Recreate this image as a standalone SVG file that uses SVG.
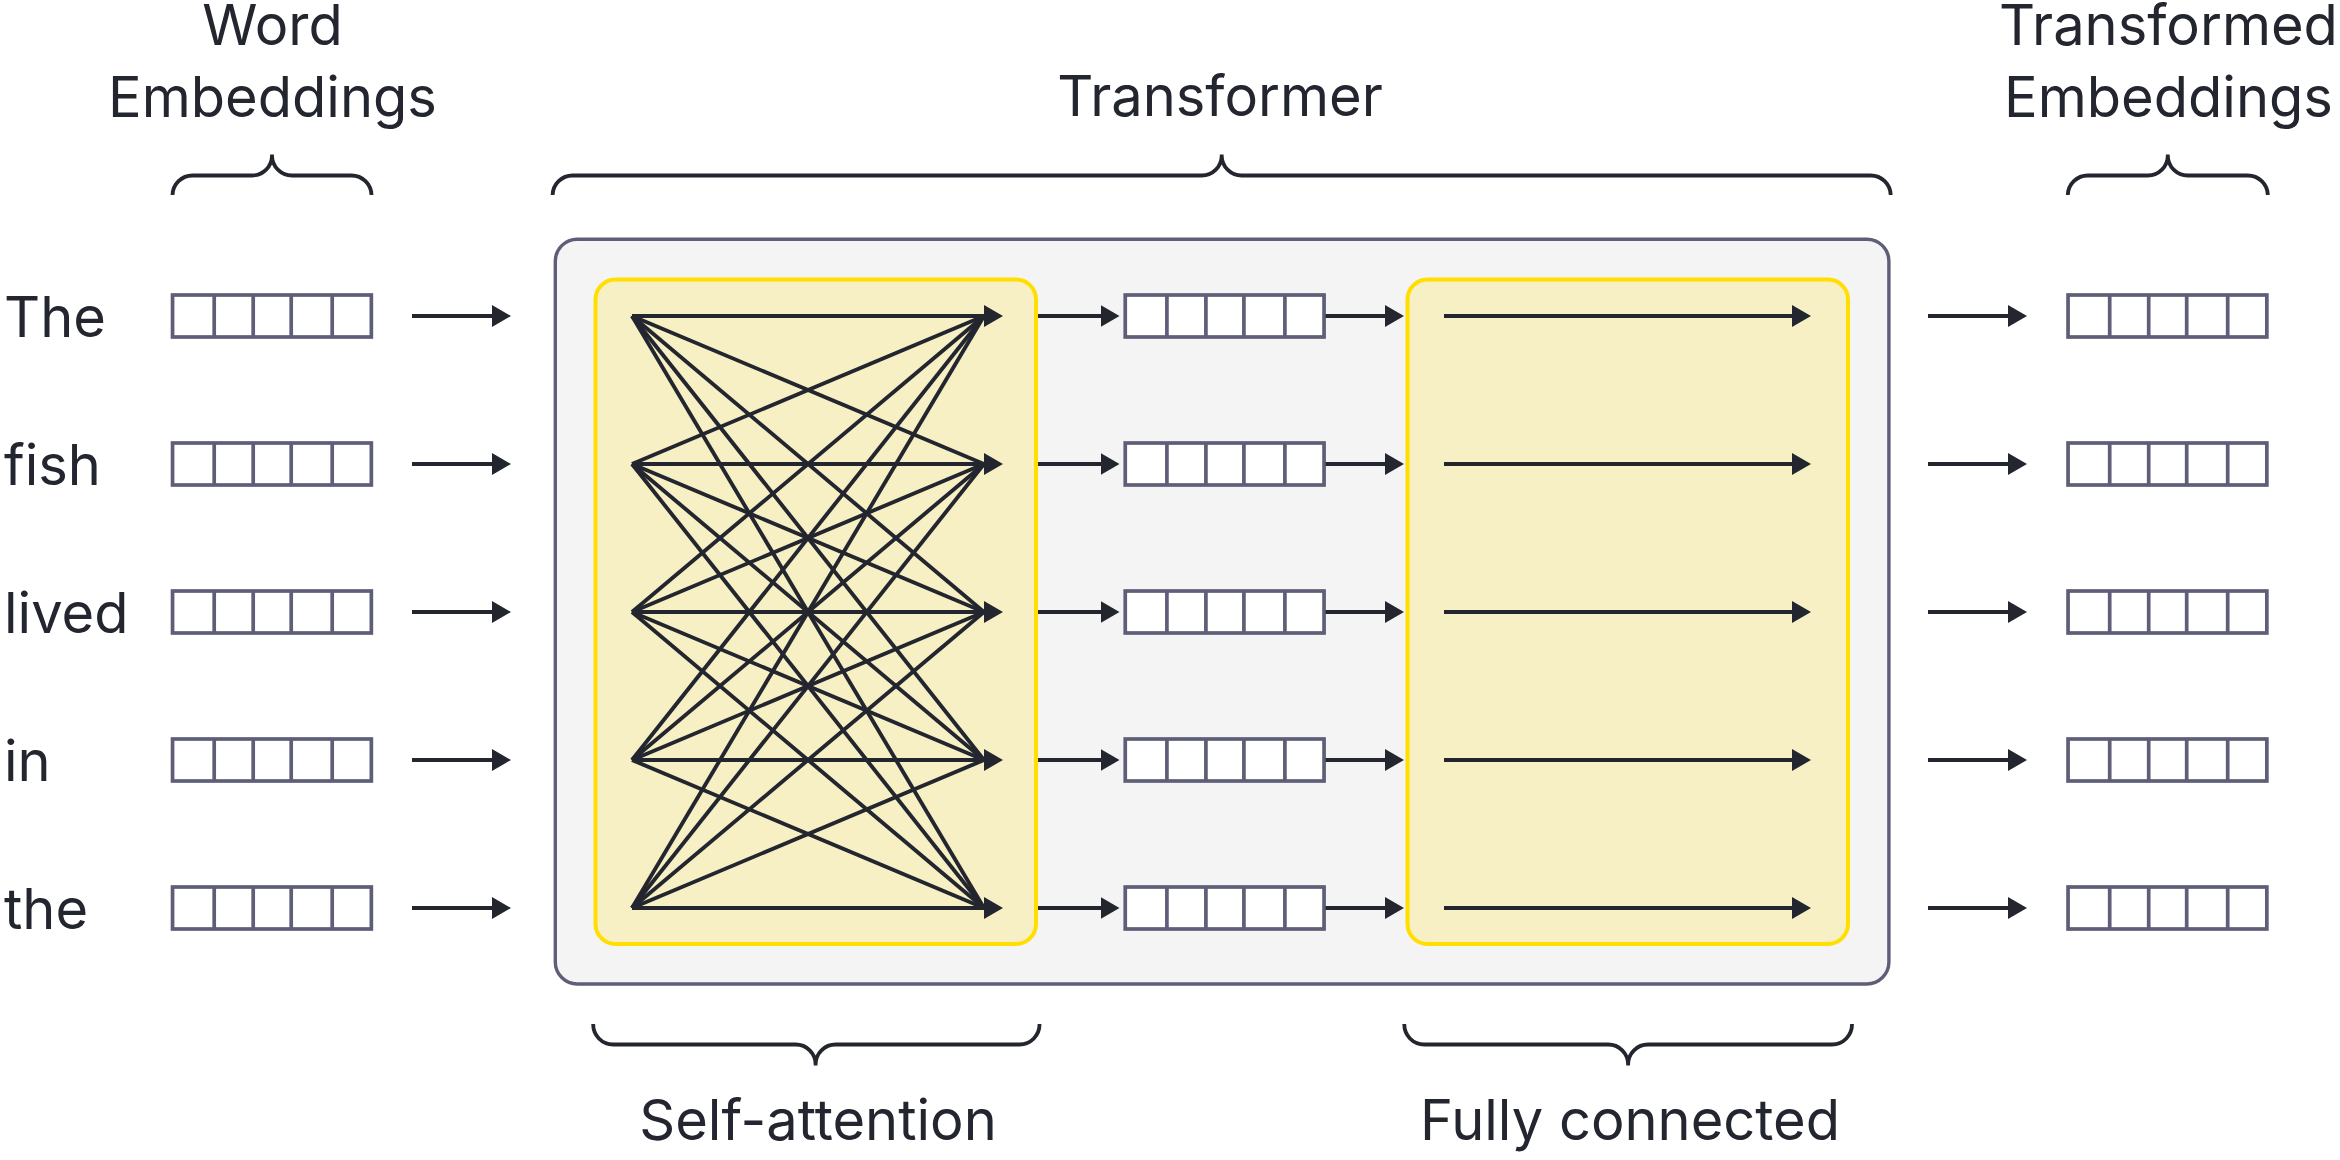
<svg xmlns="http://www.w3.org/2000/svg" xmlns:xlink="http://www.w3.org/1999/xlink" width="2340" height="1160" viewBox="0 0 2340 1160">
<style>
  .lbl { font-family: Inter, "Noto Sans", "Liberation Sans", sans-serif; font-size: 56px; fill: #23262f; }
  .mid { text-anchor: middle; }
  .emb rect { fill: #ffffff; stroke: #5e5e78; stroke-width: 3.7; }
  .emb path { fill: none; stroke: #5e5e78; stroke-width: 3.7; }
  .brace { fill: none; stroke: #23262f; stroke-width: 3.8; }
  .conn line { stroke: #23262f; stroke-width: 3.9; }
  .arr { marker-end: url(#ah); }
  .outer { fill: #f4f4f4; stroke: #5e5e78; stroke-width: 3.4; }
  .block { fill: #f7f0c4; stroke: #ffde00; stroke-width: 4; }
</style>
<defs>
  <marker id="ah" markerUnits="userSpaceOnUse" markerWidth="19" markerHeight="22" viewBox="0 0 19 22" refX="15" refY="11" orient="auto">
    <path d="M0,0 L19,11 L0,22 Z" fill="#23262f"/>
  </marker>
  <g id="emb" class="emb">
    <rect x="1.85" y="-21" width="198.8" height="42"/>
    <path d="M43.5,-21V21 M82.5,-21V21 M120.5,-21V21 M161.5,-21V21"/>
  </g>
</defs>
<rect width="2340" height="1160" fill="#ffffff"/>

<!-- Top labels and braces -->
<g id="label-word-embeddings">
  <text class="lbl mid" x="272.5" y="45">Word</text>
  <text class="lbl mid" x="272.5" y="116.5">Embeddings</text>
  <path class="brace" d="M172.5,195 A20,20 0 0 1 192.5,175.5 H252 A20,20 0 0 0 272,155.5 V154.5 V155.5 A20,20 0 0 0 292,175.5 H351.5 A20,20 0 0 1 371.5,195"/>
</g>
<g id="label-transformer">
  <text class="lbl mid" x="1220" y="116">Transformer</text>
  <path class="brace" d="M552.6,195 A20,20 0 0 1 572.6,175.5 H1201.7 A20,20 0 0 0 1221.7,155.5 V154.5 V155.5 A20,20 0 0 0 1241.7,175.5 H1870.7 A20,20 0 0 1 1890.7,195"/>
</g>
<g id="label-transformed-embeddings">
  <text class="lbl mid" x="2168.5" y="45">Transformed</text>
  <text class="lbl mid" x="2168.5" y="116.5">Embeddings</text>
  <path class="brace" d="M2067.8,195 A20,20 0 0 1 2087.8,175.5 H2147.8 A20,20 0 0 0 2167.8,155.5 V154.5 V155.5 A20,20 0 0 0 2187.8,175.5 H2247.8 A20,20 0 0 1 2267.8,195"/>
</g>

<!-- Transformer container -->
<g id="transformer">
  <rect class="outer" x="555.3" y="239.2" width="1333.6" height="744.8" rx="22"/>
</g>
<g id="self-attention">
  <rect class="block" x="595.5" y="279.5" width="440.5" height="664.5" rx="20"/>
</g>
<g id="fully-connected">
  <rect class="block" x="1407.5" y="279.5" width="440.5" height="664.5" rx="20"/>
</g>

<!-- Bottom braces and labels -->
<g id="label-self-attention">
  <path class="brace" d="M593.2,1024 A20,20 0 0 0 613.2,1044.5 H795.6 A20,20 0 0 1 815.6,1064.5 V1065.5 V1064.5 A20,20 0 0 1 835.6,1044.5 H1019.5 A20,20 0 0 0 1039.5,1024"/>
  <text class="lbl mid" x="818" y="1140">Self-attention</text>
</g>
<g id="label-fully-connected">
  <path class="brace" d="M1404.3,1024 A20,20 0 0 0 1424.3,1044.5 H1608.1 A20,20 0 0 1 1628.1,1064.5 V1065.5 V1064.5 A20,20 0 0 1 1648.1,1044.5 H1832 A20,20 0 0 0 1852,1024"/>
  <text class="lbl mid" x="1630" y="1140">Fully connected</text>
</g>

<!-- Word labels -->
<g id="word-The"><text class="lbl" x="4" y="336.5">The</text></g>
<g id="word-fish"><text class="lbl" x="4" y="484.5">fish</text></g>
<g id="word-lived"><text class="lbl" x="4" y="632.5">lived</text></g>
<g id="word-in"><text class="lbl" x="4" y="780.5">in</text></g>
<g id="word-the"><text class="lbl" x="4" y="928.5">the</text></g>

<!-- Input embeddings -->
<g id="emb-in-1"><use xlink:href="#emb" href="#emb" x="170.7" y="316"/></g>
<g id="emb-in-2"><use xlink:href="#emb" href="#emb" x="170.7" y="464"/></g>
<g id="emb-in-3"><use xlink:href="#emb" href="#emb" x="170.7" y="612"/></g>
<g id="emb-in-4"><use xlink:href="#emb" href="#emb" x="170.7" y="760"/></g>
<g id="emb-in-5"><use xlink:href="#emb" href="#emb" x="170.7" y="908"/></g>

<!-- Intermediate embeddings -->
<g id="emb-mid-1"><use xlink:href="#emb" href="#emb" x="1123.4" y="316"/></g>
<g id="emb-mid-2"><use xlink:href="#emb" href="#emb" x="1123.4" y="464"/></g>
<g id="emb-mid-3"><use xlink:href="#emb" href="#emb" x="1123.4" y="612"/></g>
<g id="emb-mid-4"><use xlink:href="#emb" href="#emb" x="1123.4" y="760"/></g>
<g id="emb-mid-5"><use xlink:href="#emb" href="#emb" x="1123.4" y="908"/></g>

<!-- Output embeddings -->
<g id="emb-out-1"><use xlink:href="#emb" href="#emb" x="2066.2" y="316"/></g>
<g id="emb-out-2"><use xlink:href="#emb" href="#emb" x="2066.2" y="464"/></g>
<g id="emb-out-3"><use xlink:href="#emb" href="#emb" x="2066.2" y="612"/></g>
<g id="emb-out-4"><use xlink:href="#emb" href="#emb" x="2066.2" y="760"/></g>
<g id="emb-out-5"><use xlink:href="#emb" href="#emb" x="2066.2" y="908"/></g>

<!-- Connectors -->
<g id="connectors" class="conn">
  <!-- input arrows -->
  <line class="arr" x1="412" y1="316" x2="507" y2="316"/>
  <line class="arr" x1="412" y1="464" x2="507" y2="464"/>
  <line class="arr" x1="412" y1="612" x2="507" y2="612"/>
  <line class="arr" x1="412" y1="760" x2="507" y2="760"/>
  <line class="arr" x1="412" y1="908" x2="507" y2="908"/>

  <!-- self-attention: diagonals -->
  <line x1="632" y1="316" x2="984" y2="464"/>
  <line x1="632" y1="316" x2="984" y2="612"/>
  <line x1="632" y1="316" x2="984" y2="760"/>
  <line x1="632" y1="316" x2="984" y2="908"/>
  <line x1="632" y1="464" x2="984" y2="316"/>
  <line x1="632" y1="464" x2="984" y2="612"/>
  <line x1="632" y1="464" x2="984" y2="760"/>
  <line x1="632" y1="464" x2="984" y2="908"/>
  <line x1="632" y1="612" x2="984" y2="316"/>
  <line x1="632" y1="612" x2="984" y2="464"/>
  <line x1="632" y1="612" x2="984" y2="760"/>
  <line x1="632" y1="612" x2="984" y2="908"/>
  <line x1="632" y1="760" x2="984" y2="316"/>
  <line x1="632" y1="760" x2="984" y2="464"/>
  <line x1="632" y1="760" x2="984" y2="612"/>
  <line x1="632" y1="760" x2="984" y2="908"/>
  <line x1="632" y1="908" x2="984" y2="316"/>
  <line x1="632" y1="908" x2="984" y2="464"/>
  <line x1="632" y1="908" x2="984" y2="612"/>
  <line x1="632" y1="908" x2="984" y2="760"/>
  <!-- self-attention: straight with arrowheads -->
  <line class="arr" x1="632" y1="316" x2="999" y2="316"/>
  <line class="arr" x1="632" y1="464" x2="999" y2="464"/>
  <line class="arr" x1="632" y1="612" x2="999" y2="612"/>
  <line class="arr" x1="632" y1="760" x2="999" y2="760"/>
  <line class="arr" x1="632" y1="908" x2="999" y2="908"/>

  <!-- self-attention to intermediate -->
  <line class="arr" x1="1038" y1="316" x2="1115.5" y2="316"/>
  <line class="arr" x1="1038" y1="464" x2="1115.5" y2="464"/>
  <line class="arr" x1="1038" y1="612" x2="1115.5" y2="612"/>
  <line class="arr" x1="1038" y1="760" x2="1115.5" y2="760"/>
  <line class="arr" x1="1038" y1="908" x2="1115.5" y2="908"/>

  <!-- intermediate to fully connected -->
  <line class="arr" x1="1325.5" y1="316" x2="1400" y2="316"/>
  <line class="arr" x1="1325.5" y1="464" x2="1400" y2="464"/>
  <line class="arr" x1="1325.5" y1="612" x2="1400" y2="612"/>
  <line class="arr" x1="1325.5" y1="760" x2="1400" y2="760"/>
  <line class="arr" x1="1325.5" y1="908" x2="1400" y2="908"/>

  <!-- fully connected -->
  <line class="arr" x1="1444" y1="316" x2="1807" y2="316"/>
  <line class="arr" x1="1444" y1="464" x2="1807" y2="464"/>
  <line class="arr" x1="1444" y1="612" x2="1807" y2="612"/>
  <line class="arr" x1="1444" y1="760" x2="1807" y2="760"/>
  <line class="arr" x1="1444" y1="908" x2="1807" y2="908"/>

  <!-- output arrows -->
  <line class="arr" x1="1928" y1="316" x2="2023" y2="316"/>
  <line class="arr" x1="1928" y1="464" x2="2023" y2="464"/>
  <line class="arr" x1="1928" y1="612" x2="2023" y2="612"/>
  <line class="arr" x1="1928" y1="760" x2="2023" y2="760"/>
  <line class="arr" x1="1928" y1="908" x2="2023" y2="908"/>
</g>
</svg>
